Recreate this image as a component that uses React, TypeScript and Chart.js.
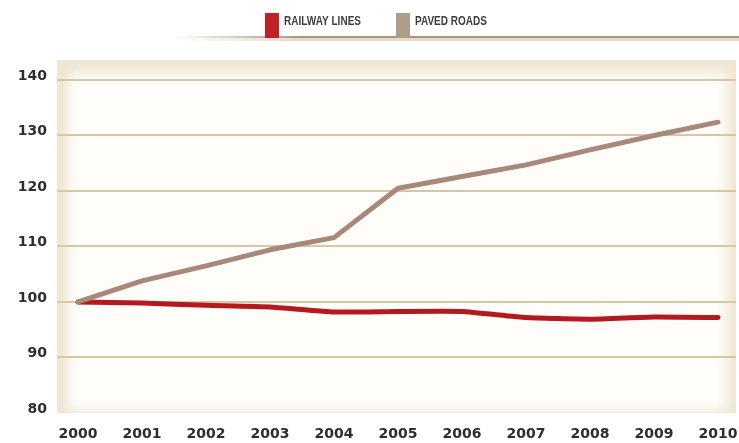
import React, { useEffect, useRef } from "react";
import { Chart, registerables } from "chart.js";

Chart.register(...registerables);

const years = ["2000", "2001", "2002", "2003", "2004", "2005", "2006", "2007", "2008", "2009", "2010"];
const railwayLines = [100, 99.8, 99.4, 99.1, 98.2, 98.3, 98.3, 97.2, 96.9, 97.3, 97.2];
const pavedRoads = [100, 103.8, 106.5, 109.4, 111.6, 120.5, 122.6, 124.7, 127.4, 130.0, 132.4];
const yTicks = [80, 90, 100, 110, 120, 130, 140];
const seriesNames = ["RAILWAY LINES", "PAVED ROADS"];

const RED = "#b5191f";
const TAUPE = "#a8887a";

const backgroundPlugin = {
  id: "bgBox",
  beforeDraw(chart: any) {
    const { ctx, chartArea: a } = chart;
    const w = a.right - a.left;
    const h = a.bottom - a.top;
    ctx.save();
    ctx.beginPath();
    ctx.rect(a.left, a.top, w, h);
    ctx.clip();
    ctx.fillStyle = "#efe6d3";
    ctx.fillRect(a.left, a.top, w, h);
    ctx.filter = "blur(6px)";
    ctx.fillStyle = "#fefdfa";
    ctx.fillRect(a.left + 11, a.top + 13, w - 20, h - 15);
    ctx.filter = "none";
    ctx.restore();
  },
};

const legendPlugin = {
  id: "customLegend",
  afterDraw(chart: any) {
    const { ctx } = chart;
    ctx.save();
    const g = ctx.createLinearGradient(175, 0, 300, 0);
    g.addColorStop(0, "rgba(165,150,128,0)");
    g.addColorStop(1, "rgba(165,150,128,1)");
    ctx.fillStyle = g;
    ctx.fillRect(175, 36, 739 - 175, 2);
    const g2 = ctx.createLinearGradient(175, 0, 300, 0);
    g2.addColorStop(0, "rgba(225,215,198,0)");
    g2.addColorStop(1, "rgba(225,215,198,0.9)");
    ctx.fillStyle = g2;
    ctx.fillRect(175, 38, 739 - 175, 3);

    const items = [
      { x: 265, color: "#bf2129", textX: 284, w: 77 },
      { x: 396, color: "#ae9e89", textX: 415, w: 72 },
    ];
    items.forEach((it, i) => {
      ctx.fillStyle = it.color;
      ctx.fillRect(it.x, 13, 14, 25);
      ctx.font = "bold 13px 'Liberation Sans', Arial, sans-serif";
      ctx.fillStyle = "#3d3d3d";
      ctx.textBaseline = "alphabetic";
      const m = ctx.measureText(seriesNames[i]).width;
      const s = it.w / m;
      ctx.save();
      ctx.translate(it.textX, 25);
      ctx.scale(s, 1);
      ctx.fillText(seriesNames[i], 0, 0);
      ctx.restore();
    });
    ctx.restore();
  },
};

export default function App() {
  const ref = useRef<HTMLCanvasElement | null>(null);

  useEffect(() => {
    document.body.style.margin = "0";
    const canvas = ref.current;
    if (!canvas) return;
    const tickFont = { family: "'DejaVu Sans', sans-serif", size: 14, weight: "bold" as const };
    const chart = new Chart(canvas, {
      type: "line",
      data: {
        datasets: [
          {
            label: seriesNames[1],
            data: pavedRoads.map((v, i) => ({ x: i, y: v })),
            borderColor: TAUPE,
            borderWidth: 5,
            pointRadius: 0,
            borderCapStyle: "round",
            borderJoinStyle: "round",
            tension: 0,
            order: 1,
          },
          {
            label: seriesNames[0],
            data: railwayLines.map((v, i) => ({ x: i, y: v })),
            borderColor: RED,
            borderWidth: 5,
            pointRadius: 0,
            borderCapStyle: "round",
            borderJoinStyle: "round",
            tension: 0.15,
            order: 2,
          },
        ],
      },
      options: {
        animation: false,
        responsive: false,
        maintainAspectRatio: false,
        layout: { padding: { top: 60, right: 3, left: 0, bottom: 0 } },
        plugins: { legend: { display: false }, tooltip: { enabled: false } },
        scales: {
          x: {
            type: "linear",
            min: -0.328,
            max: 10.28,
            afterBuildTicks: (scale: any) => {
              scale.ticks = years.map((_, i) => ({ value: i }));
            },
            afterFit: (scale: any) => {
              scale.height = 30;
              scale.paddingLeft = 0;
              scale.paddingRight = 0;
            },
            ticks: {
              callback: (v: any) => years[v],
              font: tickFont,
              color: "#2e2e2e",
              padding: 13,
              maxRotation: 0,
              autoSkip: false,
            },
            grid: { display: false, drawTicks: false },
            border: { display: false },
          },
          y: {
            type: "linear",
            min: 80,
            max: 143.6,
            afterBuildTicks: (scale: any) => {
              scale.ticks = yTicks.map((v) => ({ value: v }));
            },
            afterFit: (scale: any) => {
              scale.width = 57;
              scale.paddingTop = 0;
              scale.paddingBottom = 0;
            },
            ticks: {
              font: tickFont,
              color: "#2e2e2e",
              padding: 10,
              labelOffset: -4,
            },
            grid: {
              drawTicks: false,
              lineWidth: 2,
              color: (c: any) => (c.tick && c.tick.value === 80 ? "rgba(0,0,0,0)" : "#d8c7a6"),
            },
            border: { display: false },
          },
        },
      },
      plugins: [backgroundPlugin, legendPlugin],
    });
    return () => chart.destroy();
  }, []);

  return (
    <div style={{ position: "absolute", left: 0, top: 0, width: 739, height: 443, background: "#ffffff" }}>
      <canvas ref={ref} width={739} height={443} style={{ width: 739, height: 443, display: "block" }} />
    </div>
  );
}
